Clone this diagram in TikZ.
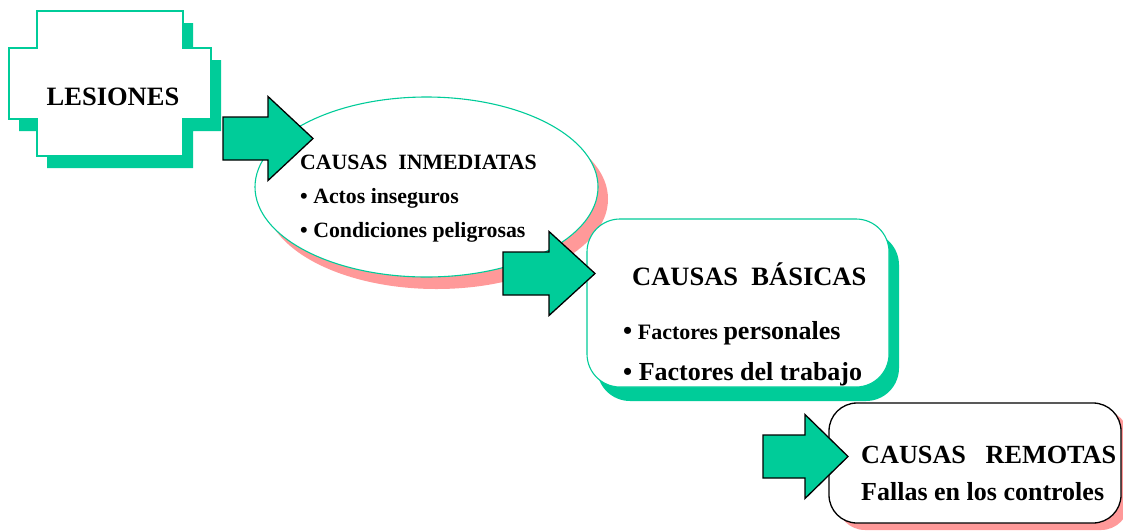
\documentclass[tikz,border=0pt]{standalone}
\usepackage{fontspec}
\setmainfont{Liberation Serif}
\definecolor{grn}{HTML}{00CC99}
\definecolor{pnk}{HTML}{FF9999}
\newcommand\fsz[1]{\fontsize{#1}{#1}\selectfont}
\newcommand\lesPath[1]{\path[#1] (37,11) -- (183,11) -- (183,48) -- (211,48) -- (211,119) -- (183,119) -- (183,156) -- (37,156) -- (37,119) -- (9,119) -- (9,48) -- (37,48) -- cycle;}
\newcommand\blockArrow[4]{% tail x, head base x, tip x, centre y
  \path[blockarrow] (#1,#4-21.5) -- (#2,#4-21.5) -- (#2,#4-42) -- (#3,#4) -- (#2,#4+42) -- (#2,#4+21.5) -- (#1,#4+21.5) -- cycle;}
\tikzset{
  blockarrow/.style={draw=black, line width=1.3pt, fill=grn, line join=miter},
  txt/.style={inner sep=0pt, anchor=base west, font=\bfseries},
  gshadow/.style={fill=grn},
  pshadow/.style={fill=pnk}
}
\begin{document}
\begin{tikzpicture}[x=1pt,y=-1pt]
\useasboundingbox (0,0) rectangle (1123,531);
\clip (0,0) rectangle (1123,531);
\fill[white] (0,0) rectangle (1123,531);

% LESIONES
\begin{scope}[shift={(10,12)}]
\lesPath{gshadow}
\end{scope}
\lesPath{draw=grn, fill=white, line width=1.1pt}
\node[inner sep=0pt, font=\bfseries\fsz{26.5}] (les) at (113,97) {LESIONES};

% CAUSAS INMEDIATAS
\fill[pnk] (436.5,199) ellipse [x radius=171.5, y radius=90];
\draw[grn, fill=white, line width=1.1pt] (426.5,187) ellipse [x radius=171.5, y radius=90];
\coordinate (inm) at (426.5,187);
\node[txt, font=\bfseries\fsz{21.8}] (inm1) at (300,169) {CAUSAS\ \ INMEDIATAS};
\node[txt, font=\bfseries\fsz{21.8}] (inm2) at (300,203) {• Actos inseguros};
\node[txt, font=\bfseries\fsz{21.8}] (inm3) at (300,237) {• Condiciones peligrosas};

\blockArrow{223}{268}{313}{138.5}

% CAUSAS BASICAS
\fill[grn, rounded corners=33pt] (597,232) rectangle (899,401);
\draw[grn, fill=white, line width=1.1pt, rounded corners=33pt] (587,219) rectangle (889,387);
\node[txt, font=\bfseries\fsz{26.5}] (bas1) at (632,285) {CAUSAS\ \ BÁSICAS};
\node[txt, font=\bfseries\fsz{22}] (bas2) at (623,339) {{\fsz{26}•} Factores {\fsz{26}personales}};
\node[txt, font=\bfseries\fsz{26}] (bas3) at (623,380) {• Factores del trabajo};

\blockArrow{503}{549}{595}{273.5}

% CAUSAS REMOTAS
\fill[pnk, rounded corners=28pt] (837,410) rectangle (1129,530);
\draw[black, fill=white, line width=1.3pt, rounded corners=28pt] (829,403) rectangle (1121,523);
\node[txt, font=\bfseries\fsz{26.2}] (rem1) at (861,463) {CAUSAS\ \ \ REMOTAS};
\node[txt, font=\bfseries\fsz{26}] (rem2) at (861,500) {Fallas en los controles};

\blockArrow{763}{805}{848}{456.5}
\end{tikzpicture}
\end{document}
